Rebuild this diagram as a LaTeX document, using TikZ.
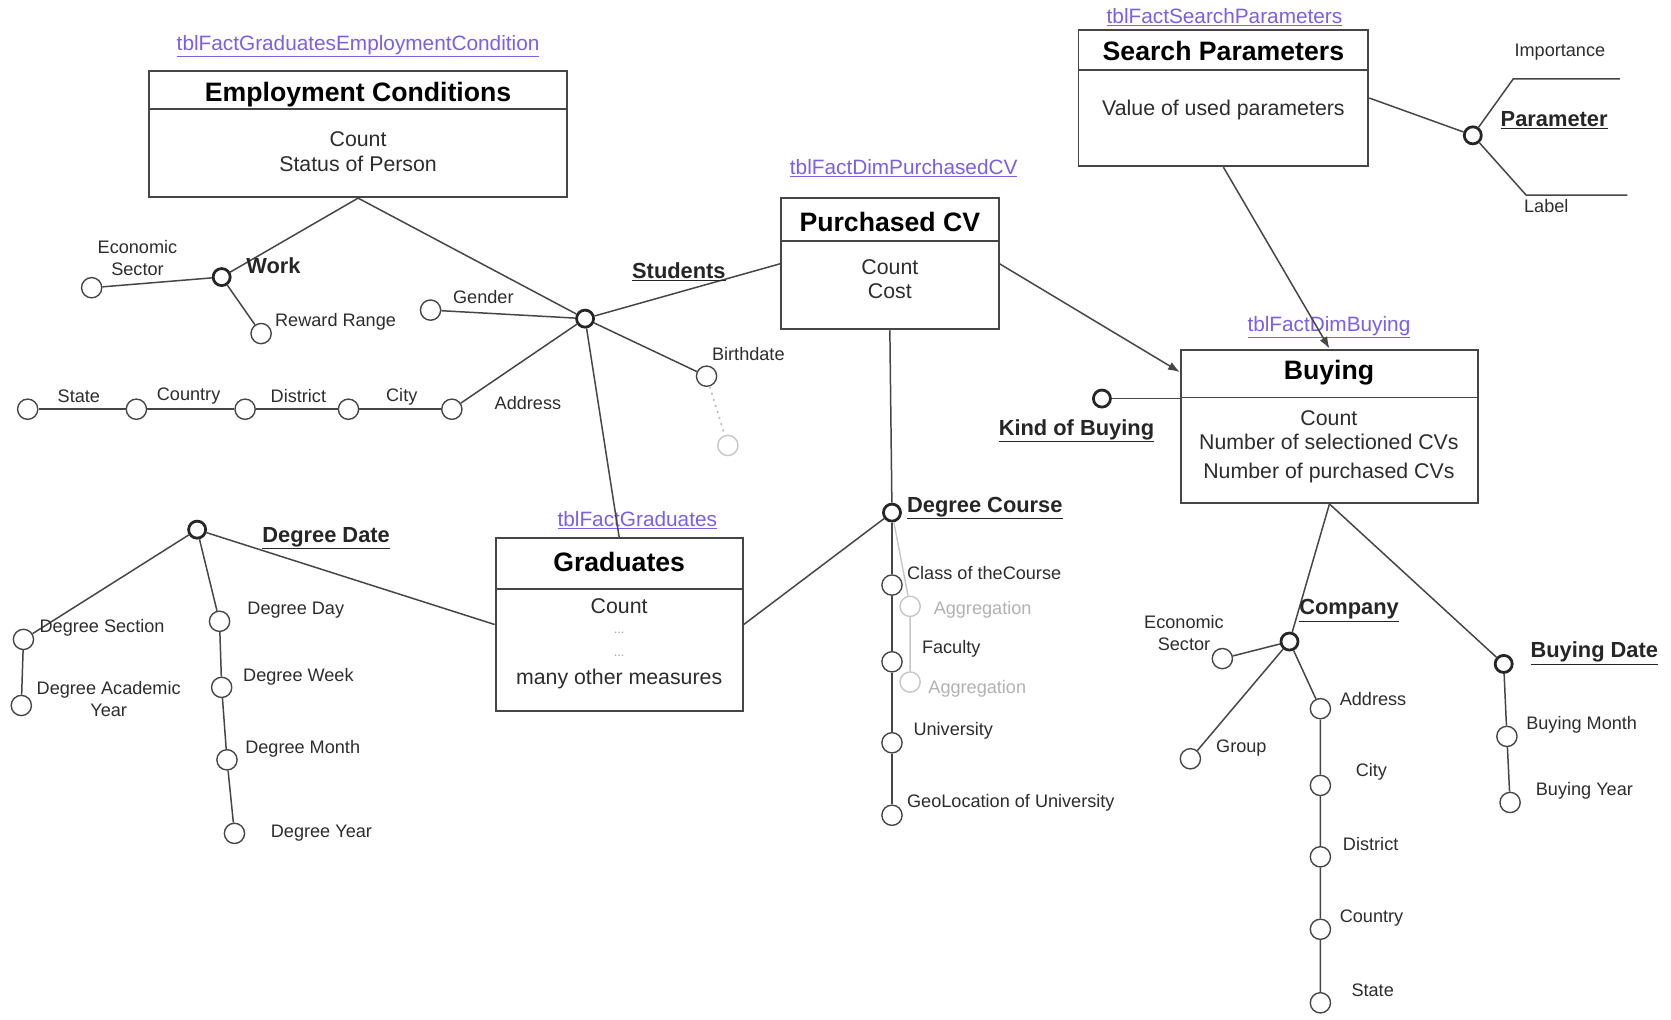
\documentclass[tikz,border=0pt]{standalone}
\usepackage{fontspec}
\setmainfont{Liberation Sans}
\usetikzlibrary{arrows.meta,calc}
\definecolor{linec}{RGB}{70,70,70}
\definecolor{txt}{RGB}{45,45,45}
\definecolor{tblc}{RGB}{125,95,230}
\begin{document}
\begin{tikzpicture}[x=1pt,y=-1pt,
  conn/.style={draw=linec, line width=1.4pt},
  gconn/.style={draw=gray!45, line width=1.3pt},
  arr/.style={conn, -{Latex[length=11pt,width=8pt]}},
  fact/.style={draw=linec, line width=1.8pt, fill=white, inner sep=0},
  sepl/.style={draw=linec, line width=1.8pt},
  lvl/.style={circle, draw=linec, line width=1.3pt, fill=white, minimum size=19pt, inner sep=0},
  glvl/.style={lvl, draw=gray!45},
  dimn/.style={circle, draw=black!85, line width=2.6pt, fill=white, minimum size=16pt, inner sep=0},
  lab/.style={inner sep=0, text=txt, font=\fontsize{17}{21}\selectfont},
  glab/.style={lab, text=gray!60},
  mea/.style={inner sep=0, text=txt, font=\fontsize{20}{23}\selectfont},
  hdr/.style={inner sep=0, text=black, font=\fontsize{25}{30}\selectfont\bfseries},
  dlab/.style={inner sep=0, text=black!85, font=\fontsize{20.5}{24}\selectfont\bfseries},
  tbl/.style={inner sep=0, text=tblc, font=\fontsize{19.5}{23}\selectfont}]
\useasboundingbox (0,0) rectangle (1568,957);
\fill[white] (0,0) rectangle (1568,957);

% ---------- fact boxes ----------
\node[fact, minimum width=392pt, minimum height=118pt] (ec) at (336,126) {};
\draw[sepl] (ec.west |- 0,102) -- (ec.east |- 0,102);
\node[fact, minimum width=204pt, minimum height=123pt] (pcv) at (835,247.5) {};
\draw[sepl] (pcv.west |- 0,226) -- (pcv.east |- 0,226);
\node[fact, minimum width=232pt, minimum height=162pt] (gr) at (581,586) {};
\draw[sepl] (gr.west |- 0,553) -- (gr.east |- 0,553);
\node[fact, minimum width=272pt, minimum height=128pt] (sp) at (1148,92) {};
\draw[sepl] (sp.west |- 0,66) -- (sp.east |- 0,66);
\node[fact, minimum width=279pt, minimum height=144pt] (by) at (1247.5,400) {};
\draw[sepl] (by.west |- 0,373) -- (by.east |- 0,373);

% ---------- table labels ----------
\node[tbl] (t1) at (336,43) {\underline{tblFactGraduatesEmploymentCondition}};
\node[tbl] (t2) at (848,158) {\underline{tblFactDimPurchasedCV}};
\node[tbl] (t3) at (598,488) {\underline{tblFactGraduates}};
\node[tbl] (t4) at (1149,16) {\underline{tblFactSearchParameters}};
\node[tbl] (t5) at (1247,307) {\underline{tblFactDimBuying}};

% ---------- headers and measures ----------
\node[hdr] (h1) at (336,89) {Employment Conditions};
\node[mea] (m11) at (336,131) {Count};
\node[mea] (m12) at (336,154) {Status of Person};
\node[hdr] (h2) at (835,208) {Purchased CV};
\node[mea] (m21) at (835,251) {Count};
\node[mea] (m22) at (835,273) {Cost};
\node[hdr] (h3) at (581,527) {Graduates};
\node[mea] (m31) at (581,569) {Count};
\node[mea, text=gray!70, font=\fontsize{12}{14}\selectfont] (m32) at (581,594) {...};
\node[mea, text=gray!70, font=\fontsize{12}{14}\selectfont] (m33) at (581,615) {...};
\node[mea] (m34) at (581,637) {many other measures};
\node[hdr] (h4) at (1148,48) {Search Parameters};
\node[mea] (m41) at (1148,103) {Value of used parameters};
\node[hdr] (h5) at (1247,350) {Buying};
\node[mea] (m51) at (1247,392) {Count};
\node[mea] (m52) at (1247,415) {Number of selectioned CVs};
\node[mea] (m53) at (1247,444) {Number of purchased CVs};

% ---------- hierarchy nodes ----------
\node[dimn] (work) at (208,260) {};
\node[lvl] (ecs1) at (86,270) {};
\node[lvl] (rew) at (245,313) {};
\node[dimn] (stu) at (549,299) {};
\node[lvl] (gen) at (404,291) {};
\node[lvl] (bd) at (663,353) {};
\node[glvl] (bdg) at (683,418) {};
\node[lvl] (addr1) at (424,384) {};
\node[lvl] (city1) at (327,384) {};
\node[lvl] (dist1) at (230,384) {};
\node[lvl] (ctry1) at (128,384) {};
\node[lvl] (state1) at (26,384) {};

\node[dimn] (dd) at (185,497) {};
\node[lvl] (dsec) at (22,600) {};
\node[lvl] (dacy) at (20,662) {};
\node[lvl] (dday) at (206,583) {};
\node[lvl] (dweek) at (208,645) {};
\node[lvl] (dmonth) at (213,713) {};
\node[lvl] (dyear) at (220,782) {};

\node[dimn] (dc) at (837,481) {};
\node[glvl] (agg1) at (854,569) {};
\node[glvl] (agg2) at (854,640) {};
\node[lvl] (cls) at (837,549) {};
\node[lvl] (fac) at (837,621) {};
\node[lvl] (uni) at (837,697) {};
\node[lvl] (geo) at (837,765) {};

\node[dimn] (par) at (1382,127) {};
\coordinate (impc) at (1420,74);
\coordinate (impe) at (1520,74);
\coordinate (labc) at (1432,183);
\coordinate (labe) at (1527,183);

\node[dimn] (kob) at (1034,374) {};

\node[dimn] (comp) at (1210,602) {};
\node[lvl] (ecs2) at (1147,618) {};
\node[lvl] (grp) at (1117,712) {};
\node[lvl] (addr2) at (1239,665) {};
\node[lvl] (city2) at (1239,737) {};
\node[lvl] (dist2) at (1239,804) {};
\node[lvl] (ctry2) at (1239,872) {};
\node[lvl] (state2) at (1239,941) {};

\node[dimn] (bdt) at (1411,623) {};
\node[lvl] (bm) at (1414,691) {};
\node[lvl] (byr) at (1417,753) {};

% ---------- connectors ----------
\draw[conn] (ec.south) -- (work);
\draw[conn] (ec.south) -- (stu);
\draw[conn] (work) -- (ecs1);
\draw[conn] (work) -- (rew);
\draw[conn] (stu) -- (pcv.west);
\draw[conn] (stu) -- (gen);
\draw[conn] (stu) -- (bd);
\draw[conn] (stu) -- (addr1);
\draw[conn] (stu) -- (gr.north);
\draw[conn] (addr1) -- (city1) -- (dist1) -- (ctry1) -- (state1);
\draw[draw=gray!55, line width=1.4pt, dash pattern=on 2pt off 4pt] (bd) -- (bdg);

\draw[conn] (dd) -- (gr.west);
\draw[conn] (dd) -- (dsec) -- (dacy);
\draw[conn] (dd) -- (dday) -- (dweek) -- (dmonth) -- (dyear);

\draw[conn] (pcv.south) -- (dc);
\draw[conn] (dc) -- (gr.east);
\draw[conn] (dc) -- (cls) -- (fac) -- (uni) -- (geo);
\draw[gconn] (dc) -- (agg1) -- (agg2);

\draw[arr] (pcv.east) -- ([yshift=-22pt]by.north west);
\draw[arr] (sp.south) -- (by.north);
\draw[conn] (sp.east) -- (par);
\draw[conn] (par) -- (impc) -- (impe);
\draw[conn] (par) -- (labc) -- (labe);
\draw[conn] (kob) -- (kob -| by.west);

\draw[conn] (by.south) -- (comp);
\draw[conn] (by.south) -- (bdt);
\draw[conn] (comp) -- (ecs2);
\draw[conn] (comp) -- (grp);
\draw[conn] (comp) -- (addr2) -- (city2) -- (dist2) -- (ctry2) -- (state2);
\draw[conn] (bdt) -- (bm) -- (byr);

% ---------- dimension labels ----------
\node[dlab, anchor=west] (lwork) at (231,249) {Work};
\node[dlab, anchor=west] (lstu) at (593,255) {\underline{Students}};
\node[dlab, anchor=west] (ldd) at (246,505) {\underline{Degree Date}};
\node[dlab, anchor=west] (ldc) at (851,477) {\underline{Degree Course}};
\node[dlab, anchor=west] (lkob) at (937,404) {\underline{Kind of Buying}};
\node[dlab, anchor=west] (lpar) at (1408,113) {\underline{Parameter}};
\node[dlab, anchor=west] (lcomp) at (1219,573) {\underline{Company}};
\node[dlab, anchor=west] (lbdt) at (1436,613) {\underline{Buying Date}};

% ---------- attribute labels ----------
\node[lab, align=center] (lecs1) at (129,242) {Economic\\Sector};
\node[lab, anchor=west] (lrew) at (258,302) {Reward Range};
\node[lab, anchor=west] (lgen) at (425,279) {Gender};
\node[lab, anchor=west] (lbd) at (668,332) {Birthdate};
\node[lab, anchor=west] (laddr1) at (464,378) {Address};
\node[lab] (lstate1) at (74,372) {State};
\node[lab] (lctry1) at (177,372) {Country};
\node[lab] (ldist1) at (280,372) {District};
\node[lab] (lcity1) at (377,372) {City};

\node[lab, anchor=west] (ldsec) at (37,589) {Degree Section};
\node[lab, align=center] (ldacy) at (102,656) {Degree Academic\\Year};
\node[lab, anchor=west] (ldday) at (232,573) {Degree Day};
\node[lab, anchor=west] (ldweek) at (228,635) {Degree Week};
\node[lab, anchor=west] (ldmonth) at (230,703) {Degree Month};
\node[lab, anchor=west] (ldyear) at (254,782) {Degree Year};

\node[lab, anchor=west] (lcls) at (851,538) {Class of theCourse};
\node[glab, anchor=west] (lagg1) at (876,572) {Aggregation};
\node[lab, anchor=west] (lfac) at (865,609) {Faculty};
\node[glab, anchor=west] (lagg2) at (871,646) {Aggregation};
\node[lab, anchor=west] (luni) at (857,686) {University};
\node[lab, anchor=west] (lgeo) at (851,753) {GeoLocation of University};

\node[lab, anchor=west] (limp) at (1421,49) {Importance};
\node[lab, anchor=west] (llab) at (1430,193) {Label};

\node[lab, align=center] (lecs2) at (1111,594) {Economic\\Sector};
\node[lab, anchor=west] (lgrp) at (1141,702) {Group};
\node[lab, anchor=west] (laddr2) at (1257,656) {Address};
\node[lab, anchor=west] (lcity2) at (1272,724) {City};
\node[lab, anchor=west] (ldist2) at (1260,792) {District};
\node[lab, anchor=west] (lctry2) at (1257,861) {Country};
\node[lab, anchor=west] (lstate2) at (1268,929) {State};
\node[lab, anchor=west] (lbm) at (1432,680) {Buying Month};
\node[lab, anchor=west] (lbyr) at (1441,742) {Buying Year};
\end{tikzpicture}
\end{document}
